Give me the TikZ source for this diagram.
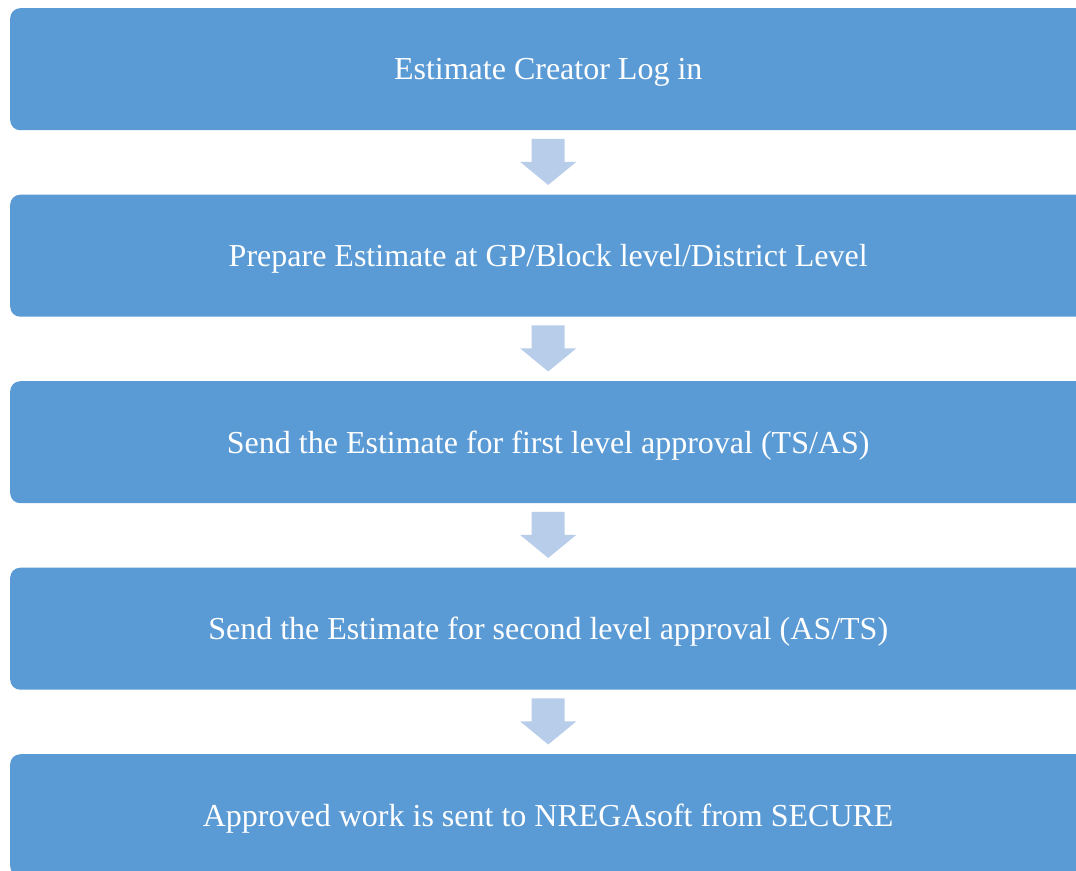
\documentclass[tikz,border=0pt]{standalone}
\usepackage{fontspec}
\setmainfont{Liberation Serif}
\usetikzlibrary{calc}
\definecolor{boxblue}{HTML}{5B9BD5}
\definecolor{arrowblue}{HTML}{B7CDE9}
\newcommand{\lowered}[1]{\raisebox{-3pt}[\height][\depth]{#1}}
\begin{document}
\begin{tikzpicture}[x=1pt,y=-1pt,
  stagebox/.style={fill=boxblue, draw=none, rounded corners=10pt, minimum width=1076pt, minimum height=122pt, inner sep=0pt, text=white, font=\fontsize{32}{38}\selectfont, anchor=north west},
  downarrow/.style={fill=arrowblue, draw=none}]
\useasboundingbox (0,0) rectangle (1076,870);
\clip (0,0) rectangle (1076,870);
\node[stagebox] (b1) at (10,8) {\lowered{Estimate Creator Log in}};
\node[stagebox] (b2) at (10,194.5) {\lowered{Prepare Estimate at GP/Block level/District Level}};
\node[stagebox] (b3) at (10,381) {\lowered{Send the Estimate for first level approval (TS/AS)}};
\node[stagebox] (b4) at (10,567.5) {\lowered{Send the Estimate for second level approval (AS/TS)}};
\node[stagebox] (b5) at (10,754) {\lowered{Approved work is sent to NREGAsoft from SECURE}};
\foreach \a/\b in {b1/b2,b2/b3,b3/b4,b4/b5}{
  \coordinate (m\a) at ($(\a.south)!0.5!(\b.north)$);
  \fill[downarrow] (m\a) ++(-16.5,-23.5) -- ++(33,0) -- ++(0,23) -- ++(11.5,0) -- ++(-28,23) -- ++(-28,-23) -- ++(11.5,0) -- cycle;
}
\end{tikzpicture}
\end{document}
